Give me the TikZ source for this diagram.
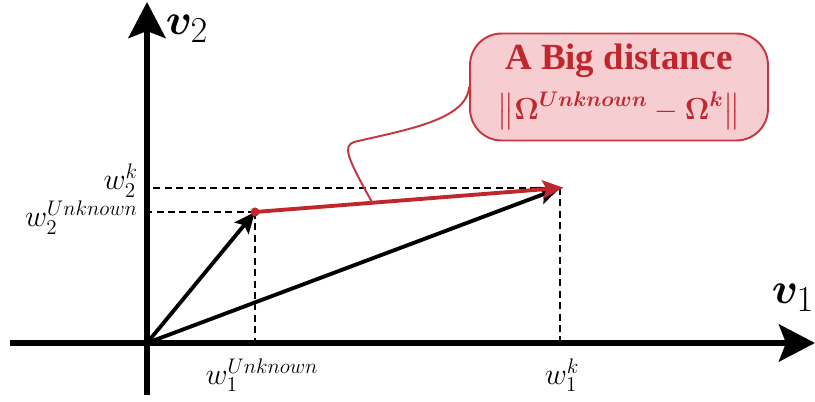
\documentclass[tikz,border=0pt]{standalone}
\usepackage{fontspec}
\usepackage{amsmath}
\usepackage{bm}
\usepackage{xcolor}
\usetikzlibrary{arrows.meta,positioning,calc}
\newfontfamily\boxfont{Liberation Serif}
\definecolor{DistRed}{HTML}{C0272D}
\definecolor{DistPink}{HTML}{F6CDD1}
\definecolor{DistEdge}{HTML}{C63540}

\begin{document}
\begin{tikzpicture}[x=0.02cm,y=0.02cm,
  axis/.style={line width=3.4pt,-{Stealth[length=0.72cm,width=0.74cm,inset=0.14cm]}},
  vec/.style={line width=2.2pt,-{Stealth[length=0.42cm,width=0.36cm,inset=0.08cm]}},
  guide/.style={dashed,line width=0.9pt,dash pattern=on 4pt off 2.5pt},
  wlabel/.style={font=\fontsize{18}{20}\selectfont,inner sep=1pt}]
  \useasboundingbox (0,0) rectangle (815,402);
  % axes
  \coordinate (O) at (147,59);
  \coordinate (xa) at (10,59);
  \coordinate (xb) at (815,59);
  \coordinate (ya) at (147,7);
  \coordinate (yb) at (147,400);
  \coordinate (U) at (255,190);
  \coordinate (K) at (560,214);
  \coordinate (Ux) at (255,59);
  \coordinate (Kx) at (560,59);
  \coordinate (Uy) at (147,190);
  \coordinate (Ky) at (147,214);
  \draw[axis] (xa)--(xb);
  \draw[axis] (ya)--(yb);
  \node[font=\fontsize{32}{36}\selectfont,inner sep=0pt] (v2) at (187,373) {$\bm{v}_2$};
  \node[font=\fontsize{32}{36}\selectfont,inner sep=0pt] (v1) at (793,104) {$\bm{v}_1$};
  % guides
  \foreach \a/\b in {U/Ux,U/Uy,K/Kx,K/Ky}{\draw[guide] (\a)--(\b);}
  \node[wlabel,anchor=base east] (w2k) at (140,212) {$w_2^k$};
  \node[wlabel,anchor=base east] (w2u) at (140,175) {$w_2^{Unknown}$};
  \node[wlabel] (w1u) at (262,27) {$w_1^{Unknown}$};
  \node[wlabel] (w1k) at (562,27) {$w_1^k$};
  % vectors
  \draw[vec] (O)--(U);
  \draw[vec] (O)--(K);
  \draw[vec,DistRed,shorten >=-2pt] (U)--(K);
  \fill[DistRed] (U) circle (4.5);
  % callout
  \node[draw=DistEdge,line width=1.1pt,fill=DistPink,rounded corners=18pt,minimum width=5.96cm,minimum height=2.14cm,align=center,text=DistRed] (dist) at (619,315) {{\boxfont\bfseries\fontsize{21}{24}\selectfont A Big distance}\\[7pt]{\fontsize{17}{20}\selectfont$\bigl\|\bm{\Omega}^{\bm{Unknown}}-\bm{\Omega}^{\bm{k}}\bigr\|$}};
  \coordinate (tip) at ($(U)!0.385!(K)$);
  \draw[DistEdge,line width=1.1pt] (dist.west) .. controls (467,282) and (405,272) .. (354,260) .. controls (343,256) and (346,246) .. (tip);
\end{tikzpicture}
\end{document}
